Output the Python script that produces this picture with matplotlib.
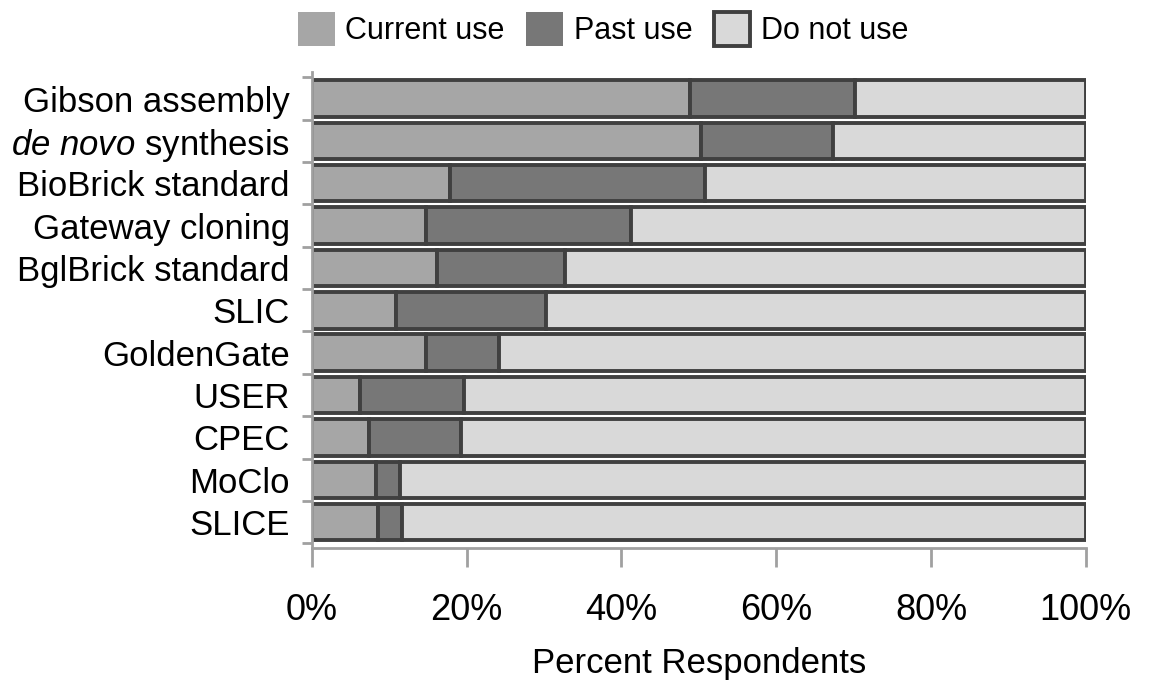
import numpy as np
import matplotlib.pyplot as plt
from matplotlib.patches import Patch
from matplotlib.ticker import FixedLocator, PercentFormatter

plt.rcParams['font.family'] = ['Liberation Sans', 'DejaVu Sans']
plt.rcParams['mathtext.fontset'] = 'custom'
plt.rcParams['mathtext.it'] = 'Liberation Sans:italic'
plt.rcParams['mathtext.rm'] = 'Liberation Sans'

# методы сборки (сверху вниз)
methods = ['Gibson assembly', r'$\it{de\ novo}$ synthesis', 'BioBrick standard',
           'Gateway cloning', 'BglBrick standard', 'SLIC', 'GoldenGate',
           'USER', 'CPEC', 'MoClo', 'SLICE']
current_use = [48.8, 50.3, 17.8, 14.8, 16.1, 10.9, 14.8, 6.2, 7.4, 8.3, 8.5]
past_use = [21.4, 17.0, 33.0, 26.4, 16.6, 19.4, 9.4, 13.4, 11.9, 3.1, 3.1]
do_not_use = [29.8, 32.7, 49.2, 58.8, 67.3, 69.7, 75.8, 80.4, 80.7, 88.6, 88.4]

c_cur = '#a6a6a6'
c_past = '#777777'
c_not = '#d9d9d9'
edge = '#404040'
gray = '#a0a0a0'

fig = plt.figure(figsize=(11.49, 6.82), dpi=100)
ax = fig.add_axes([0.2715, 0.196, 0.6735, 0.698])

y = np.arange(len(methods))[::-1]
cur = np.array(current_use)
past = np.array(past_use)
h = 0.86
ax.barh(y, cur, height=h, color=c_cur, edgecolor=edge, linewidth=2.8)
ax.barh(y, past, left=cur, height=h, color=c_past, edgecolor=edge, linewidth=2.8)
ax.barh(y, do_not_use, left=cur + past, height=h, color=c_not, edgecolor=edge, linewidth=2.8)

ax.set_xlim(0, 100)
ax.set_ylim(-0.62, len(methods) - 0.38)
ax.set_yticks(y)
ax.set_yticklabels(methods, fontsize=25)
ax.yaxis.set_minor_locator(FixedLocator(np.arange(-0.5, len(methods), 1.0)))
ax.tick_params(axis='y', which='major', length=0, pad=16)
ax.tick_params(axis='y', which='minor', length=7, width=2, color=gray)

ax.set_xticks(np.arange(0, 101, 20))
ax.xaxis.set_major_formatter(PercentFormatter(decimals=0))
ax.tick_params(axis='x', length=14, width=2, color=gray, labelsize=26, pad=18)

for s in ['top', 'right']:
    ax.spines[s].set_visible(False)
for s in ['left', 'bottom']:
    ax.spines[s].set_color(gray)
    ax.spines[s].set_linewidth(2)

ax.set_xlabel('Percent Respondents', fontsize=25, labelpad=14)

handles = [Patch(facecolor=c_cur, edgecolor='none'),
           Patch(facecolor=c_past, edgecolor='none'),
           Patch(facecolor=c_not, edgecolor=edge, linewidth=2.8)]
fig.legend(handles, ['Current use', 'Past use', 'Do not use'], ncol=3,
           loc='upper center', bbox_to_anchor=(0.525, 1.022), frameon=False,
           fontsize=22, handlelength=1.2, handleheight=1.3,
           handletextpad=0.35, columnspacing=0.7)

fig.savefig('out.png', dpi=100)
